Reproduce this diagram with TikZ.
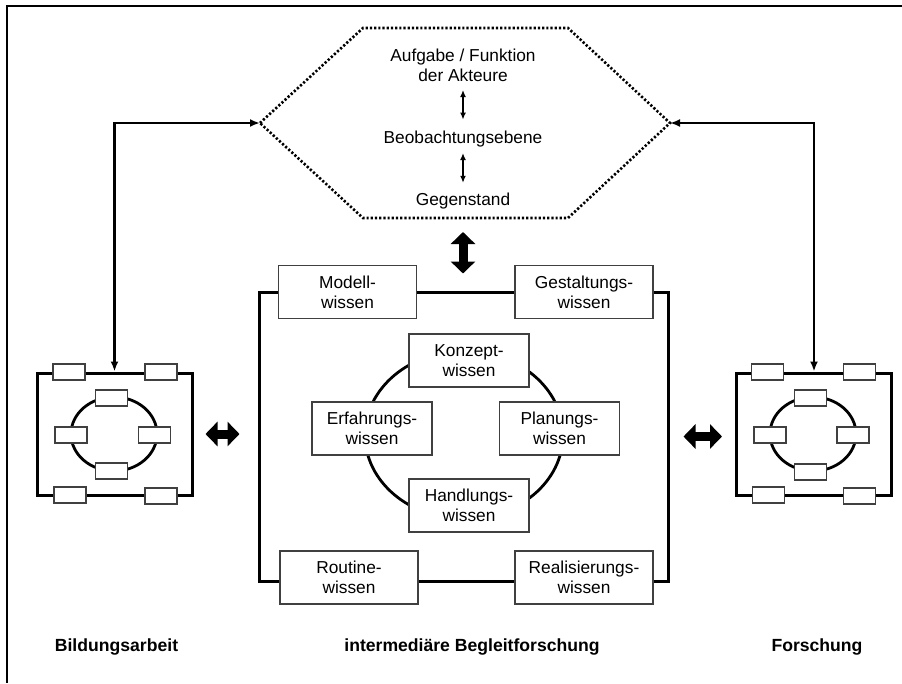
\documentclass[tikz,border=0pt]{standalone}
\usepackage{fontspec}
\setmainfont{Liberation Sans}
\usetikzlibrary{arrows.meta}
\begin{document}
\begin{tikzpicture}[x=1pt,y=-1pt,
  font=\fontsize{17.3}{20}\selectfont,
  wbox/.style={draw=black!75, line width=1.2pt, fill=white, align=center, minimum width=138pt, minimum height=53pt, inner sep=0pt},
  kbox/.style={wbox, minimum width=120pt},
  sbox/.style={draw=black!75, line width=1.2pt, fill=white, minimum width=32pt, minimum height=16pt, inner sep=0pt},
  modbox/.style={draw=black, line width=3pt, minimum width=155pt, minimum height=122pt, inner sep=0pt},
  ring/.style={draw=black, line width=2.8pt},
  hexline/.style={draw=black, line width=2.6pt, dash pattern=on 2.2pt off 2pt},
  conn/.style={line width=2.3pt, {Latex[length=10pt,width=8pt]}-{Latex[length=10pt,width=8pt]}},
  sarr/.style={line width=1.3pt, {Latex[length=7pt,width=6pt]}-{Latex[length=7pt,width=6pt]}},
  bigarr/.style={line width=9pt, {Triangle[length=12pt,width=24pt]}-{Triangle[length=12pt,width=24pt]}},
  txt/.style={inner sep=0pt, align=center},
  lbl/.style={inner sep=0pt, font=\fontsize{17.6}{20}\selectfont\bfseries}
]
\useasboundingbox (0,0) rectangle (902,683);
\fill[white] (0,0) rectangle (902,683);
% frame
\draw[line width=1.8pt] (902,6) -- (7,6) -- (7,683);

% hexagon
\coordinate (hexL) at (260,123);
\coordinate (hexR) at (670,123);
\coordinate (hexB) at (463,218);
\draw[hexline] (hexL) -- (363,28) -- (568,28) -- (hexR) -- (568,218) -- (363,218) -- cycle;
\node[txt] (aufg) at (463,65.5) {Aufgabe / Funktion\\der Akteure};
\node[txt, anchor=base] (beob) at (463,143.3) {Beobachtungsebene};
\node[txt, anchor=base] (gegen) at (463,205) {Gegenstand};
\draw[sarr, shorten <=8pt, shorten >=11pt] (aufg.south) -- (beob.north);
\draw[sarr, shorten <=6pt, shorten >=9.5pt] (beob.south) -- (gegen.north);

% left module
\node[modbox] (lmod) at (114.5,434) {};
\draw[ring] (114,434) ellipse [x radius=43pt, y radius=37pt];
\node[sbox] (l1) at (69,372) {};
\node[sbox] (l2) at (161,372) {};
\node[sbox] (l3) at (111.5,398) {};
\node[sbox] (l4) at (71,435) {};
\node[sbox] (l5) at (154.5,435) {};
\node[sbox] (l6) at (111.5,471) {};
\node[sbox] (l7) at (70,495) {};
\node[sbox] (l8) at (161,496) {};

% right module
\node[modbox] (rmod) at (814,434) {};
\draw[ring] (813,434) ellipse [x radius=43pt, y radius=37pt];
\node[sbox] (r1) at (767.5,372) {};
\node[sbox] (r2) at (859.5,372) {};
\node[sbox] (r3) at (810.5,398) {};
\node[sbox] (r4) at (770,435) {};
\node[sbox] (r5) at (853,435) {};
\node[sbox] (r6) at (810.5,472) {};
\node[sbox] (r7) at (768.5,495) {};
\node[sbox] (r8) at (859.5,496) {};

% central module
\node[modbox, minimum width=409pt, minimum height=289pt] (cmod) at (463.5,436.5) {};
\draw[ring] (464,435) ellipse [x radius=99pt, y radius=84pt];
\node[wbox] (modell) at (347.5,292) {Modell-\\wissen};
\node[wbox] (gestalt) at (584,292) {Gestaltungs-\\wissen};
\node[wbox] (routine) at (349,577.5) {Routine-\\wissen};
\node[wbox] (real) at (584,577.5) {Realisierungs-\\wissen};
\node[kbox] (konzept) at (469,360.5) {Konzept-\\wissen};
\node[kbox] (erf) at (372,428.5) {Erfahrungs-\\wissen};
\node[kbox] (plan) at (559.5,428.5) {Planungs-\\wissen};
\node[kbox] (handl) at (469,505.5) {Handlungs-\\wissen};

% connectors
\draw[conn] (hexL) -| (lmod.north);
\draw[conn] (hexR) -| (rmod.north);
\draw[bigarr, shorten <=14pt, shorten >=17pt] (hexB) -- (hexB |- cmod.north);
\draw[bigarr, shorten <=12pt, shorten >=18pt] (lmod.east) -- (lmod.east -| cmod.west);
\draw[bigarr, shorten <=14pt, shorten >=13pt] (cmod.east) -- (cmod.east -| rmod.west);

% labels
\node[lbl] (bild) at (116.5,647) {Bildungsarbeit};
\node[lbl] (inter) at (472,647) {intermediäre Begleitforschung};
\node[lbl] (forsch) at (817,647) {Forschung};
\end{tikzpicture}
\end{document}
